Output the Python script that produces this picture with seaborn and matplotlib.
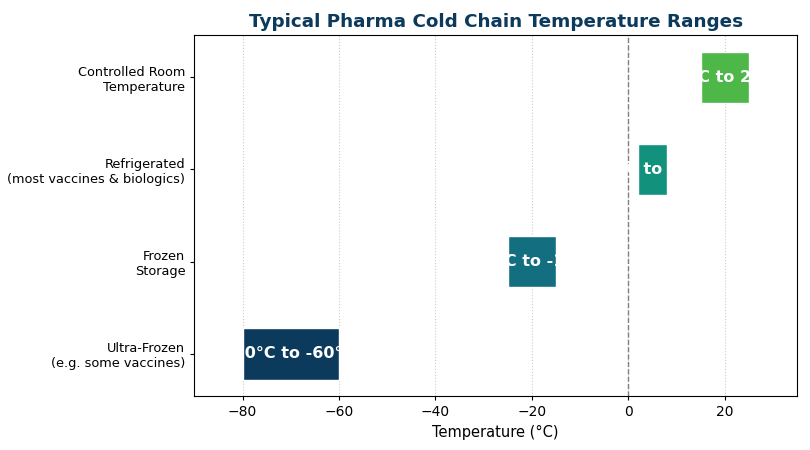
import numpy as np
import matplotlib
matplotlib.use("Agg")
import matplotlib.pyplot as plt
import seaborn as sns

categories = ["Ultra-Frozen\n(e.g. some vaccines)", "Frozen\nStorage",
              "Refrigerated\n(most vaccines & biologics)", "Controlled Room\nTemperature"]
low_temp = [-80, -25, 2, 15]
high_temp = [-60, -15, 8, 25]
bar_labels = ["-80°C to -60°C", "-25°C to -15°C", "2°C to 8°C", "15°C to 25°C"]
colors = ["#0B3A5C", "#136F80", "#12917C", "#4DB748"]

sns.set_style("white")
plt.rcParams["font.family"] = ["DejaVu Sans"]
plt.rcParams["text.color"] = "black"
plt.rcParams["axes.labelcolor"] = "black"
plt.rcParams["xtick.color"] = "black"
plt.rcParams["ytick.color"] = "black"

fig, ax = plt.subplots(figsize=(8.1, 4.5), dpi=100)
pos = np.arange(len(categories))
widths = np.array(high_temp) - np.array(low_temp)
bars = ax.barh(pos, widths, left=low_temp, height=0.56, color=colors, zorder=2)

for b, lab, lo, w in zip(bars, bar_labels, low_temp, widths):
    t = ax.text(lo + w / 2, b.get_y() + b.get_height() / 2, lab, ha="center", va="center",
                color="white", fontsize=11.5, fontweight="bold", zorder=3)
    t.set_clip_path(b)

ax.axvline(0, color="gray", linestyle="--", linewidth=1, zorder=1)
ax.set_xlim(-90, 35)
ax.set_yticks(pos)
ax.set_yticklabels(categories, fontsize=9.3)
ax.tick_params(axis="y", length=3, left=True)
ax.tick_params(axis="x", labelsize=10, length=3, bottom=True)
ax.grid(axis="x", linestyle=":", color="#cccccc", linewidth=0.8, zorder=0)
for s in ax.spines.values():
    s.set_color("black")
    s.set_linewidth(0.8)
ax.set_xlabel("Temperature (°C)", fontsize=10.5)
ax.set_title("Typical Pharma Cold Chain Temperature Ranges", fontsize=13.2,
             fontweight="bold", color="#0B3A5C")

fig.subplots_adjust(left=0.24, right=0.984, top=0.922, bottom=0.12)
fig.savefig("out.png", dpi=100)
